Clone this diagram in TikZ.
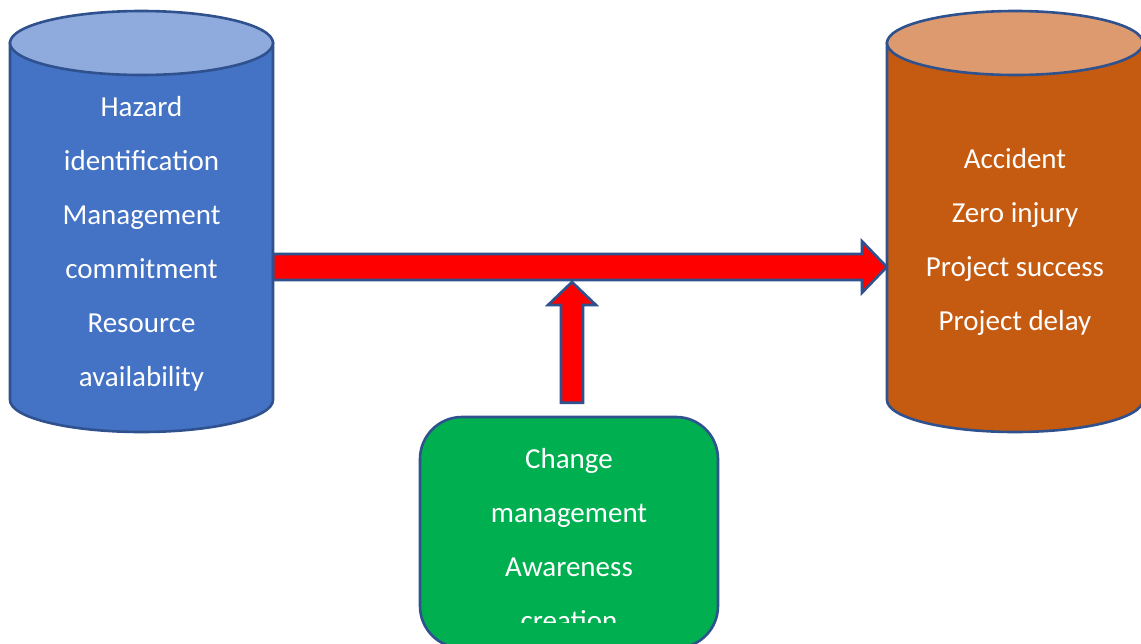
\documentclass[tikz,border=0pt]{standalone}
\usepackage{fontspec}
\setmainfont{Carlito}
\usetikzlibrary{calc}
\definecolor{edgeblue}{HTML}{2F528F}
\definecolor{bodyblue}{HTML}{4472C4}
\definecolor{topblue}{HTML}{8FAADC}
\definecolor{bodyorange}{HTML}{C55A11}
\definecolor{toporange}{HTML}{DC9A6E}
\definecolor{boxgreen}{HTML}{00B050}
\begin{document}
\begin{tikzpicture}[x=1pt, y=-1pt,
        cyltext/.style={text=white, align=center, font=\fontsize{29}{54}\selectfont, minimum height=422pt},
        box/.style={draw=edgeblue, line width=2.6pt, fill=boxgreen, rounded corners=42pt},
        blockarrow/.style={draw=edgeblue, line width=2.6pt, fill=red, line join=miter}
    ]
    \useasboundingbox (0,0) rectangle (1141,643);

    % left cylinder
    \filldraw[draw=edgeblue, line width=2.6pt, fill=bodyblue] (10,43) -- (10,400)
        arc[start angle=180, end angle=0, x radius=131.5, y radius=32] -- (273,43) -- cycle;
    \filldraw[draw=edgeblue, line width=2.6pt, fill=topblue] (141.5,43) ellipse[x radius=131.5, y radius=32];
    % right cylinder
    \filldraw[draw=edgeblue, line width=2.6pt, fill=bodyorange] (887,43) -- (887,400)
        arc[start angle=180, end angle=0, x radius=128, y radius=32] -- (1143,43) -- cycle;
    \filldraw[draw=edgeblue, line width=2.6pt, fill=toporange] (1015,43) ellipse[x radius=128, y radius=32];

    \node[cyltext, minimum width=263pt] (hazard) at (141.5,244) {Hazard\\identification\\Management\\commitment\\Resource\\availability};
    \node[cyltext, minimum width=256pt] (accident) at (1015,242) {Accident\\Zero injury\\Project success\\Project delay};

    % green box, text cut off at the bottom
    \node[box, minimum width=298pt, minimum height=231pt] (changebox) at (569,532.5) {};
    \begin{scope}
        \clip (420,417) rectangle (718,622);
        \node[cyltext, minimum height=0pt] (change) at (569,540) {Change\\management\\Awareness\\creation};
    \end{scope}

    % block arrows
    \coordinate (hmid) at (0,267);
    \coordinate (hs) at (hazard.east |- hmid);
    \coordinate (ht) at (accident.west |- hmid);
    \filldraw[blockarrow] ($(hs)+(0,-13)$) -- ($(ht)+(-25,-13)$) -- ($(ht)+(-25,-26)$) -- (ht)
        -- ($(ht)+(-25,26)$) -- ($(ht)+(-25,13)$) -- ($(hs)+(0,13)$) -- cycle;

    \coordinate (vs) at ($(changebox.north)+(3,-13)$);
    \coordinate (vt) at ($(vs |- hmid)+(0,15)$);
    \filldraw[blockarrow] ($(vs)+(-11,0)$) -- ($(vt)+(-11,23)$) -- ($(vt)+(-24,23)$) -- (vt)
        -- ($(vt)+(24,23)$) -- ($(vt)+(11,23)$) -- ($(vs)+(11,0)$) -- cycle;

\end{tikzpicture}
\end{document}
